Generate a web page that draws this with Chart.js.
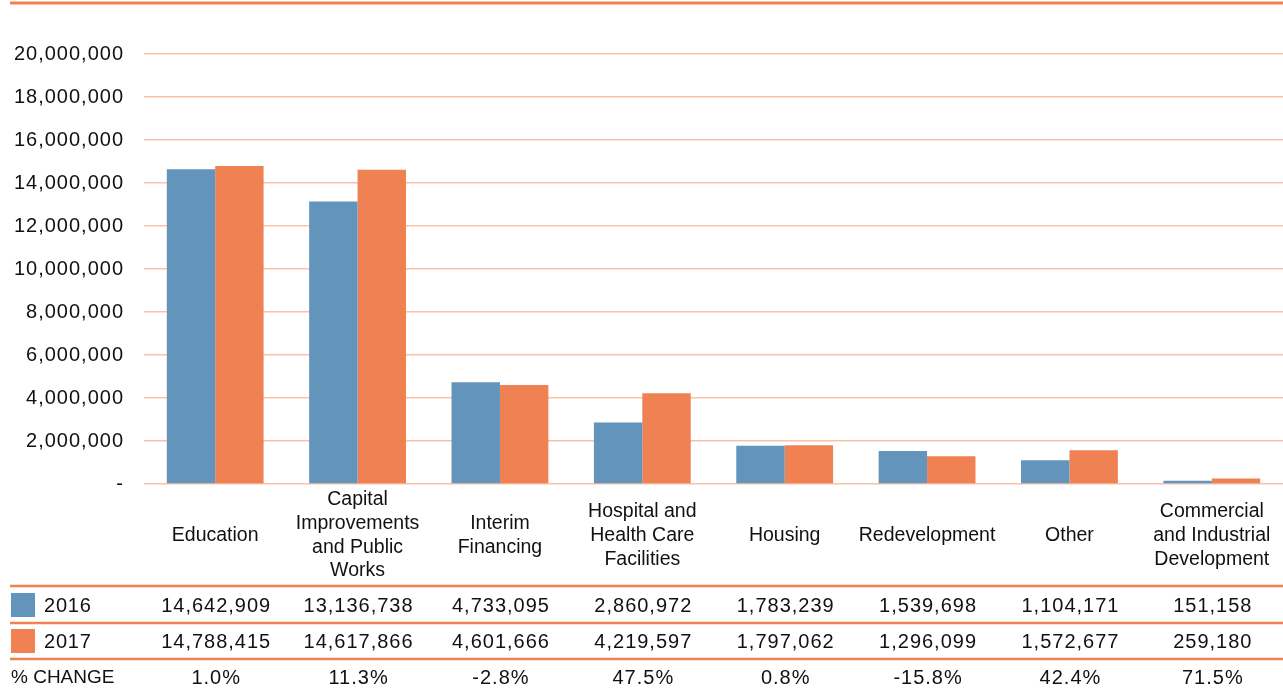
<!doctype html>
<html lang="en">
<head>
    <meta charset="utf-8">
    <title>Bond issuance by purpose, 2016 vs 2017</title>
    <script src="https://cdn.jsdelivr.net/npm/chart.js"></script>
    <style>
        html, body { margin: 0; padding: 0; background: #fff; }
        #wrap { position: relative; width: 1283px; height: 691px; }
    </style>
</head>
<body>
<div id="wrap">
    <canvas id="myChart"></canvas>
</div>

<script>
    // categories (each entry = lines of the label)
    const categories = [
        ['Education'],
        ['Capital', 'Improvements', 'and Public', 'Works'],
        ['Interim', 'Financing'],
        ['Hospital and', 'Health Care', 'Facilities'],
        ['Housing'],
        ['Redevelopment'],
        ['Other'],
        ['Commercial', 'and Industrial', 'Development']
    ];
    const values2016 = [14642909, 13136738, 4733095, 2860972, 1783239, 1539698, 1104171, 151158];
    const values2017 = [14788415, 14617866, 4601666, 4219597, 1797062, 1296099, 1572677, 259180];
    const pctChange = ['1.0%', '11.3%', '-2.8%', '47.5%', '0.8%', '-15.8%', '42.4%', '71.5%'];
    const yTicks = [0, 2000000, 4000000, 6000000, 8000000, 10000000, 12000000, 14000000, 16000000, 18000000, 20000000];

    const BLUE = '#6294bc';
    const ORANGE = '#f08152';
    const GRID = '#f9c2a7';
    const FONT = '"Liberation Sans", Arial, Helvetica, sans-serif';

    const fmt = n => n.toLocaleString('en-US');

    // draws the top rule, category labels and the data table underneath
    const tablePlugin = {
        id: 'dataTable',
        beforeDraw(chart) {
            // slightly wider digit spacing for the y tick labels
            chart.ctx.letterSpacing = '1px';
        },
        afterDraw(chart) {
            const ctx = chart.ctx;
            const x = chart.scales.x;
            ctx.letterSpacing = '0px';
            ctx.save();

            // top rule
            ctx.strokeStyle = ORANGE;
            ctx.lineWidth = 3;
            ctx.beginPath();
            ctx.moveTo(10, 3);
            ctx.lineTo(1283, 3);
            ctx.stroke();

            // category labels, vertically centered
            ctx.fillStyle = '#111';
            ctx.font = '19.5px ' + FONT;
            ctx.textAlign = 'center';
            ctx.textBaseline = 'middle';
            const lh = 23.7;
            categories.forEach((lines, i) => {
                const cx = x.getPixelForValue(i);
                const y0 = 535.5 - (lines.length - 1) * lh / 2;
                lines.forEach((t, j) => ctx.fillText(t, cx, y0 + j * lh));
            });

            // table rules
            ctx.lineWidth = 2.5;
            [586, 623, 659].forEach(y => {
                ctx.beginPath();
                ctx.moveTo(10, y);
                ctx.lineTo(1283, y);
                ctx.stroke();
            });

            // legend boxes
            ctx.fillStyle = BLUE;
            ctx.fillRect(11, 593, 24, 24);
            ctx.fillStyle = ORANGE;
            ctx.fillRect(11, 629, 24, 24);

            ctx.fillStyle = '#111';
            ctx.textAlign = 'left';
            ctx.font = '20px ' + FONT;
            ctx.letterSpacing = '0.8px';
            ctx.fillText('2016', 44, 606);
            ctx.fillText('2017', 44, 642);
            ctx.letterSpacing = '0px';
            ctx.font = '19px ' + FONT;
            ctx.fillText('% CHANGE', 11, 678);

            ctx.textAlign = 'center';
            ctx.font = '20px ' + FONT;
            ctx.letterSpacing = '1px';
            categories.forEach((_, i) => {
                const cx = x.getPixelForValue(i) + 1;
                ctx.fillText(fmt(values2016[i]), cx, 606);
                ctx.fillText(fmt(values2017[i]), cx, 642);
                ctx.fillText(pctChange[i], cx, 678);
            });
            ctx.restore();
        }
    };

    new Chart(document.getElementById('myChart'), {
        type: 'bar',
        data: {
            labels: categories.map(c => c.join(' ')),
            datasets: [
                { label: '2016', data: values2016, backgroundColor: BLUE },
                { label: '2017', data: values2017, backgroundColor: ORANGE }
            ]
        },
        options: {
            responsive: true,
            maintainAspectRatio: false,
            animation: false,
            layout: { padding: { top: 54, bottom: 207, left: 0, right: 0 } },
            datasets: { bar: { categoryPercentage: 0.68, barPercentage: 1.0 } },
            plugins: {
                legend: { display: false },
                tooltip: { enabled: false }
            },
            scales: {
                x: { display: false },
                y: {
                    min: 0,
                    max: 20000000,
                    afterFit: s => { s.width = 144; },
                    afterBuildTicks: s => { s.ticks = yTicks.map(v => ({ value: v })); },
                    border: { display: false },
                    grid: { color: GRID, lineWidth: 1.5, drawTicks: false },
                    ticks: {
                        padding: 20,
                        color: '#111',
                        font: { family: FONT, size: 20 },
                        callback: v => v === 0 ? '-' : fmt(v)
                    }
                }
            }
        },
        plugins: [tablePlugin]
    });
</script>
</body>
</html>
